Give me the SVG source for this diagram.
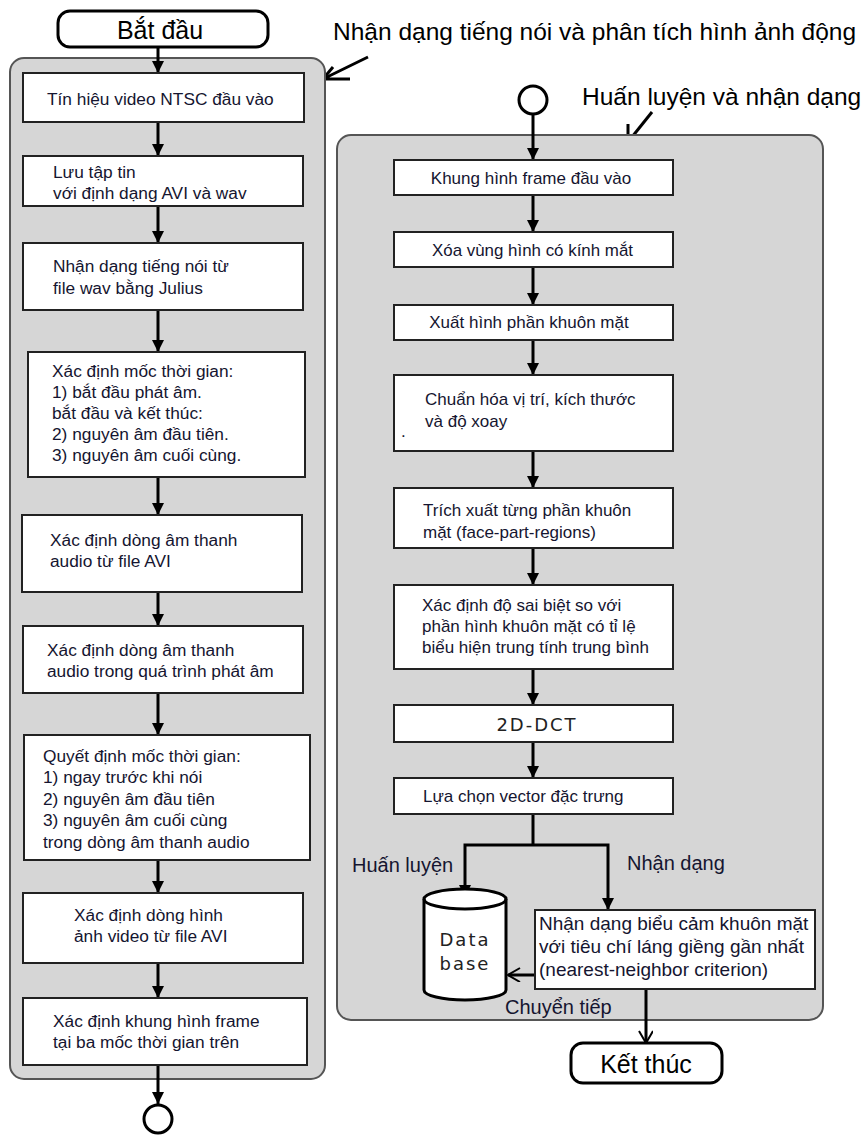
<svg xmlns="http://www.w3.org/2000/svg" width="864" height="1137" viewBox="0 0 864 1137">
<defs>
<style>
.panel{fill:#d6d6d6;stroke:#555;stroke-width:2}
.box{fill:#fff;stroke:#222;stroke-width:2}
.term{fill:#fff;stroke:#000;stroke-width:3}
.t{font-family:"Liberation Sans",Arial,sans-serif;font-size:17.3px;fill:#151530}
.r{font-family:"Liberation Sans",Arial,sans-serif;font-size:17px;fill:#151530}
.big{font-family:"Liberation Sans",Arial,sans-serif;font-size:25px;fill:#000}
.title{font-family:"Liberation Sans",Arial,sans-serif;font-size:24.5px;fill:#000}
.lbl{font-family:"Liberation Sans",Arial,sans-serif;font-size:20px;fill:#151530}
.rec{font-family:"Liberation Sans",Arial,sans-serif;font-size:19px;fill:#151530}
.mono{font-family:"DejaVu Sans","Liberation Sans",sans-serif;font-size:18px;fill:#222;letter-spacing:2px}
.c{fill:none;stroke:#000;stroke-width:3}
.ptr{fill:none;stroke:#000;stroke-width:3;stroke-linejoin:miter}
</style>
<marker id="ah" markerUnits="userSpaceOnUse" markerWidth="14" markerHeight="14" refX="12" refY="6" orient="auto">
<path d="M0,0 L12,6 L0,12 z" fill="#000"/>
</marker>
<marker id="oh" markerUnits="userSpaceOnUse" markerWidth="16" markerHeight="16" refX="13" refY="7" orient="auto">
<path d="M1,0 L13,7 L1,14" fill="none" stroke="#000" stroke-width="2"/>
</marker>
</defs>
<rect width="864" height="1137" fill="#fff"/>

<g id="titles">
<text class="title" x="333" y="40">Nhận dạng tiếng nói và phân tích hình ảnh động</text>
<text class="title" x="582" y="105">Huấn luyện và nhận dạng</text>
<polyline class="ptr" points="368,57 323,79 350,79"/>
<polyline class="ptr" points="333,67 323,79"/>
<polyline class="ptr" points="652,112 628,142"/>
<polyline class="ptr" points="628,124 628,142 658,138"/>
</g>

<g id="panel-left"><rect class="panel" x="10" y="58" width="315" height="1021" rx="14"/></g>
<g id="panel-right"><rect class="panel" x="337" y="135" width="486" height="885" rx="14"/></g>

<g id="connectors">
<line class="c" x1="158" y1="47" x2="158" y2="73" marker-end="url(#ah)"/>
<line class="c" x1="158" y1="122" x2="158" y2="156" marker-end="url(#ah)"/>
<line class="c" x1="158" y1="206" x2="158" y2="243" marker-end="url(#ah)"/>
<line class="c" x1="158" y1="310" x2="158" y2="352" marker-end="url(#ah)"/>
<line class="c" x1="158" y1="477" x2="158" y2="515" marker-end="url(#ah)"/>
<line class="c" x1="158" y1="592" x2="158" y2="626" marker-end="url(#ah)"/>
<line class="c" x1="158" y1="693" x2="158" y2="735" marker-end="url(#ah)"/>
<line class="c" x1="158" y1="860" x2="158" y2="893" marker-end="url(#ah)"/>
<line class="c" x1="158" y1="963" x2="158" y2="998" marker-end="url(#ah)"/>
<line class="c" x1="158" y1="1065" x2="158" y2="1104" marker-end="url(#ah)"/>
<line class="c" x1="533" y1="114" x2="533" y2="160" marker-end="url(#ah)"/>
<line class="c" x1="533" y1="195" x2="533" y2="232" marker-end="url(#ah)"/>
<line class="c" x1="533" y1="267" x2="533" y2="305" marker-end="url(#ah)"/>
<line class="c" x1="533" y1="340" x2="533" y2="375" marker-end="url(#ah)"/>
<line class="c" x1="533" y1="451" x2="533" y2="488" marker-end="url(#ah)"/>
<line class="c" x1="533" y1="548" x2="533" y2="585" marker-end="url(#ah)"/>
<line class="c" x1="533" y1="669" x2="533" y2="705" marker-end="url(#ah)"/>
<line class="c" x1="533" y1="742" x2="533" y2="778" marker-end="url(#ah)"/>
<line class="c" x1="533" y1="814" x2="533" y2="845"/>
<polyline class="c" points="533,845 465,845 465,897" marker-end="url(#ah)"/>
<polyline class="c" points="533,845 608,845 608,910" marker-end="url(#ah)"/>
<line class="c" x1="535" y1="975" x2="508" y2="975" marker-end="url(#oh)"/>
<line class="c" x1="646" y1="989" x2="646" y2="1043" marker-end="url(#oh)"/>
<text class="lbl" x="352" y="872">Huấn luyện</text>
<text class="lbl" x="627" y="870">Nhận dạng</text>
<text class="lbl" x="505" y="1014">Chuyển tiếp</text>
</g>

<g id="start"><rect class="term" x="58" y="11" width="210" height="36" rx="12"/><text class="big" x="160" y="39" text-anchor="middle">Bắt đầu</text></g>

<g id="l1"><rect class="box" x="23" y="73" width="281" height="49"/><text class="t" x="47" y="105">Tín hiệu video NTSC đầu vào</text></g>
<g id="l2"><rect class="box" x="23" y="156" width="280" height="50"/><text class="t" x="53" y="178">Lưu tập tin</text><text class="t" x="53" y="199">với định dạng AVI và wav</text></g>
<g id="l3"><rect class="box" x="23" y="243" width="280" height="67"/><text class="t" x="53" y="272">Nhận dạng tiếng nói từ</text><text class="t" x="53" y="294">file wav bằng Julius</text></g>
<g id="l4"><rect class="box" x="28" y="352" width="277" height="125"/>
<text class="t" x="52" y="377">Xác định mốc thời gian:</text>
<text class="t" x="52" y="398">1) bắt đầu phát âm.</text>
<text class="t" x="52" y="419">bắt đầu và kết thúc:</text>
<text class="t" x="52" y="440">2) nguyên âm đầu tiên.</text>
<text class="t" x="52" y="461">3) nguyên âm cuối cùng.</text></g>
<g id="l5"><rect class="box" x="22" y="515" width="280" height="77"/><text class="t" x="50" y="546">Xác định dòng âm thanh</text><text class="t" x="50" y="567">audio từ file AVI</text></g>
<g id="l6"><rect class="box" x="23" y="626" width="280" height="67"/><text class="t" x="47" y="656">Xác định dòng âm thanh</text><text class="t" x="47" y="677">audio trong quá trình phát âm</text></g>
<g id="l7"><rect class="box" x="24" y="735" width="286" height="125"/>
<text class="t" x="43" y="762">Quyết định mốc thời gian:</text>
<text class="t" x="43" y="783">1) ngay trước khi nói</text>
<text class="t" x="43" y="805">2) nguyên âm đầu tiên</text>
<text class="t" x="43" y="826">3) nguyên âm cuối cùng</text>
<text class="t" x="43" y="848">trong dòng âm thanh audio</text></g>
<g id="l8"><rect class="box" x="23" y="893" width="280" height="70"/><text class="t" x="74" y="921">Xác định dòng hình</text><text class="t" x="74" y="942">ảnh video từ file AVI</text></g>
<g id="l9"><rect class="box" x="23" y="998" width="284" height="67"/><text class="t" x="53" y="1027">Xác định khung hình frame</text><text class="t" x="53" y="1048">tại ba mốc thời gian trên</text></g>
<g id="connector-left"><circle cx="158" cy="1119" r="14" fill="#fff" stroke="#000" stroke-width="3"/></g>

<g id="connector-right"><circle cx="533" cy="100" r="14" fill="#fff" stroke="#000" stroke-width="3"/></g>
<g id="r1"><rect class="box" x="394" y="160" width="279" height="35"/><text class="r" x="531" y="184" text-anchor="middle">Khung hình frame đầu vào</text></g>
<g id="r2"><rect class="box" x="394" y="232" width="279" height="35"/><text class="r" x="432" y="256" textLength="201" lengthAdjust="spacingAndGlyphs">Xóa vùng hình có kính mắt</text></g>
<g id="r3"><rect class="box" x="394" y="305" width="279" height="35"/><text class="r" x="529" y="328" text-anchor="middle">Xuất hình phần khuôn mặt</text></g>
<g id="r4"><rect class="box" x="394" y="375" width="279" height="76"/><text class="r" x="425" y="405">Chuẩn hóa vị trí, kích thước</text><text class="r" x="425" y="427">và độ xoay</text><text class="r" x="401" y="437" font-size="10">.</text></g>
<g id="r5"><rect class="box" x="394" y="488" width="279" height="60"/><text class="r" x="423" y="516">Trích xuất từng phần khuôn</text><text class="r" x="423" y="538">mặt (face-part-regions)</text></g>
<g id="r6"><rect class="box" x="394" y="585" width="279" height="84"/><text class="r" x="422" y="611">Xác định độ sai biệt so với</text><text class="r" x="422" y="632">phần hình khuôn mặt có tỉ lệ</text><text class="r" x="422" y="653">biểu hiện trung tính trung bình</text></g>
<g id="r7"><rect class="box" x="394" y="705" width="279" height="37"/><text class="mono" x="537" y="731" text-anchor="middle">2D-DCT</text></g>
<g id="r8"><rect class="box" x="394" y="778" width="279" height="36"/><text class="r" x="423" y="802">Lựa chọn vector đặc trưng</text></g>

<g id="database">
<path d="M424,899 A41,10 0 0 1 506,899 L506,990 A41,10 0 0 1 424,990 Z" fill="#fff" stroke="#000" stroke-width="3"/>
<path d="M424,899 A41,10 0 0 0 506,899" fill="none" stroke="#000" stroke-width="3"/>
<text class="mono" x="465" y="946" text-anchor="middle" letter-spacing="1">Data</text>
<text class="mono" x="465" y="970" text-anchor="middle" letter-spacing="1">base</text>
</g>
<g id="recognize"><rect class="box" x="535" y="910" width="280" height="79"/>
<text class="rec" x="539" y="930">Nhận dạng biểu cảm khuôn mặt</text>
<text class="rec" x="539" y="953">với tiêu chí láng giềng gần nhất</text>
<text class="rec" x="539" y="976">(nearest-neighbor criterion)</text></g>
<g id="end"><rect class="term" x="571" y="1043" width="151" height="40" rx="12"/><text class="big" x="646" y="1073" text-anchor="middle">Kết thúc</text></g>
</svg>
